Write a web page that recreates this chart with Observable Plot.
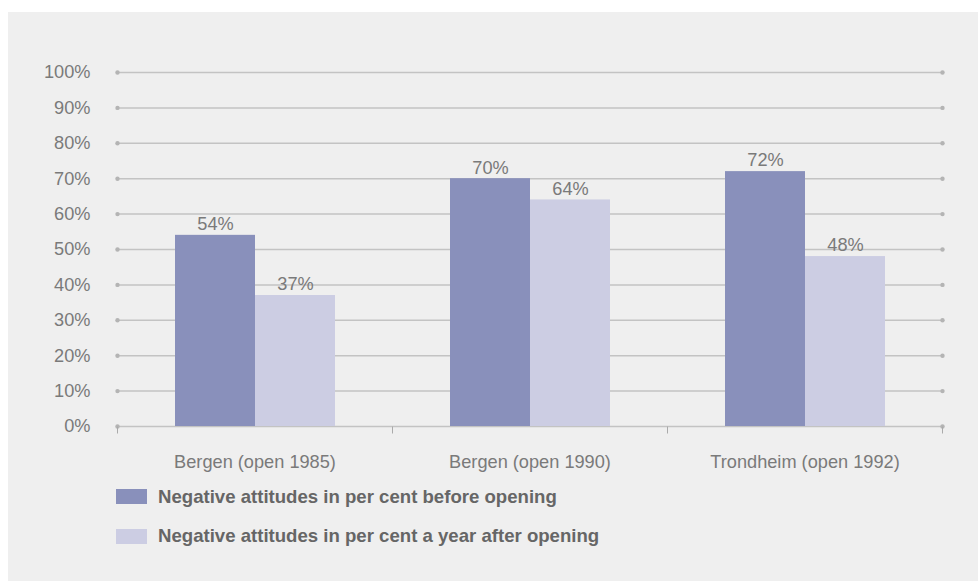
<!DOCTYPE html>
<html>
<head>
<meta charset="utf-8">
<script src="https://cdn.jsdelivr.net/npm/d3@7"></script>
<script src="https://cdn.jsdelivr.net/npm/@observablehq/plot@0.6"></script>
<style>
  html, body { margin: 0; padding: 0; background: #ffffff; }
  #panel { position: absolute; left: 8px; top: 12px; right: 0; bottom: 0; background: #efefef; overflow: hidden; }
  #chart { position: absolute; left: 0; top: 0; }
  #legend { position: absolute; left: 108px; top: 465px; font-family: "Liberation Sans", Arial, sans-serif; }
  .item { display: flex; align-items: center; height: 39.5px; }
  .sw { width: 31px; height: 15px; margin-right: 11px; }
  .lab { font-weight: bold; font-size: 18.6px; color: #666; }
</style>
</head>
<body>
<div id="panel">
  <div id="chart"></div>
  <div id="legend"></div>
</div>
<script>
const categories = ["Bergen (open 1985)", "Bergen (open 1990)", "Trondheim (open 1992)"];
const seriesNames = [
  "Negative attitudes in per cent before opening",
  "Negative attitudes in per cent a year after opening"
];
const beforeValues = [54, 70, 72];
const afterValues = [37, 64, 48];
const seriesColors = ["#8990bb", "#cccde3"];
const yTicks = [0, 10, 20, 30, 40, 50, 60, 70, 80, 90, 100];
const baseline = [0];

const rows = [];
categories.forEach((c, i) => {
  rows.push({category: c, series: seriesNames[0], value: beforeValues[i]});
  rows.push({category: c, series: seriesNames[1], value: afterValues[i]});
});

const vtick = {
  draw(context) {
    context.moveTo(0, 0);
    context.lineTo(0, 7);
  }
};

const gridColor = "#c3c3c3";
const dotColor = "#b4b4b4";

const chart = Plot.plot({
  width: 970,
  height: 460,
  marginLeft: 108,
  marginRight: 35,
  marginTop: 60,
  marginBottom: 46,
  style: {
    fontFamily: "'Liberation Sans', Arial, sans-serif",
    fontSize: "18.2px",
    color: "#7a7a7a",
    background: "transparent",
    overflow: "visible"
  },
  fx: {domain: categories, padding: 0, label: null, axis: "bottom", tickSize: 0, tickPadding: 29},
  x: {domain: seriesNames, paddingInner: 0, paddingOuter: 0.7, axis: null},
  y: {domain: [0, 100], ticks: yTicks, tickFormat: d => d + "%", tickSize: 0, tickPadding: 27, label: null},
  color: {domain: seriesNames, range: seriesColors},
  marks: [
    Plot.ruleY(yTicks, {y: d => d, stroke: gridColor, strokeWidth: 1.5}),
    Plot.dot(yTicks, {y: d => d, fx: () => categories[0], frameAnchor: "left", r: 2.2, fill: dotColor, stroke: "none"}),
    Plot.dot(yTicks, {y: d => d, fx: () => categories[categories.length - 1], frameAnchor: "right", r: 2.2, fill: dotColor, stroke: "none"}),
    Plot.dot(categories, {fx: d => d, y: () => baseline[0], frameAnchor: "left", symbol: vtick, stroke: "#aaa", strokeWidth: 1, fill: "none"}),
    Plot.dot([categories[categories.length - 1]], {fx: d => d, y: () => baseline[0], frameAnchor: "right", symbol: vtick, stroke: "#aaa", strokeWidth: 1, fill: "none"}),
    Plot.barY(rows, {fx: "category", x: "series", y: "value", fill: "series"}),
    Plot.text(rows, {fx: "category", x: "series", y: "value", text: d => d.value + "%", dy: -11, fill: "#7a7a7a"})
  ]
});
document.getElementById("chart").appendChild(chart);

const legend = document.getElementById("legend");
seriesNames.forEach((name, i) => {
  const item = document.createElement("div");
  item.className = "item";
  const sw = document.createElement("div");
  sw.className = "sw";
  sw.style.background = seriesColors[i];
  const lab = document.createElement("div");
  lab.className = "lab";
  lab.textContent = name;
  item.appendChild(sw);
  item.appendChild(lab);
  legend.appendChild(item);
});
</script>
</body>
</html>
